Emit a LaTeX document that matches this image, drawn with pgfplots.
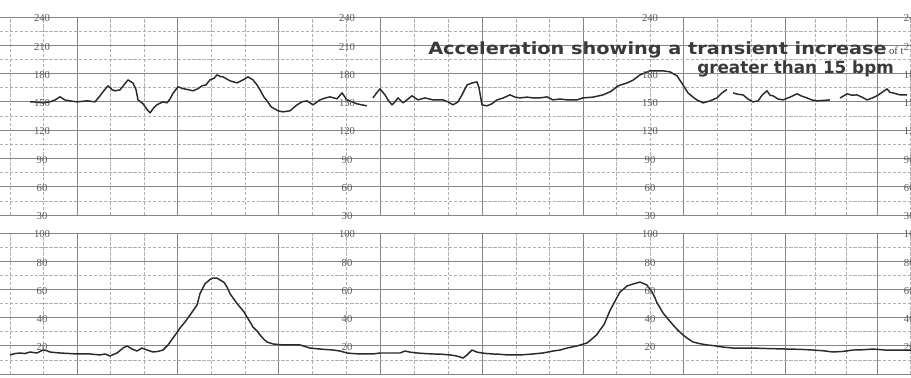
\documentclass[border=0pt]{standalone}
\usepackage{pgfplots}
\pgfplotsset{compat=1.18}
\usepackage{fontspec}
\setmainfont{Liberation Serif}
\newfontfamily\titlefont{DejaVu Sans}
\definecolor{tracecol}{HTML}{2A2A2A}
\definecolor{gridmaj}{HTML}{858585}
\definecolor{gridmin}{HTML}{B0B0B0}
\definecolor{lab}{HTML}{5A5A5A}
\definecolor{ttl}{HTML}{3A3A3A}
\tikzset{ticklab/.style={font=\fontsize{8}{8}\selectfont, text=lab, inner sep=0pt, yshift=-1pt}}
\pgfplotsset{
  ctgaxis/.style={
    scale only axis, width=683.25pt, anchor=south west,
    xmin=0, xmax=911, clip=false,
    axis line style={draw=none}, tick style={draw=none},
    xticklabels={}, yticklabels={},
    xtick={77,177,278,380,482,583,683,785,877},
    minor xtick={10,43,110,144,211,245,312,346,414,448,516,549,616,650,717,751,815,846,910},
    grid=both,
    major grid style={gridmaj, line width=0.65pt},
    minor grid style={gridmin, line width=0.45pt, dash pattern=on 2.5pt off 1.2pt},
    unbounded coords=jump,
  },
  ctgtrace/.style={tracecol, line width=1.1pt, line join=round, no marks},
}
\pgfplotstableread{
x y
30 150
33 150
43 148.9
50 150
55 152
60 155.3
65 152
70 151
77 150
82 150.5
87 151.1
95 150
100 156.4
104 162
108 167
112 163
115 161.7
120 162.7
124 168
128 173.3
133 170
136 163
138 152.1
143 148
147 142
150 138.3
154 144
157 147
163 150
167 149
170 153
173 159
178 166
183 164
188 163
193 161.7
198 164
202 167
206 168
210 173.3
214 175
217 178.6
220 177
223 176.5
230 172.3
237 170.1
243 173.3
248 176.5
253 173.3
257 168
260 162.7
264 155
267 151.1
271 145
273 143.6
278 140.5
283 139.4
290 140.5
297 146.8
302 150
307 151.1
313 146.8
320 152.1
325 154
330 155.3
337 153.2
342 159.5
347 152
352 150
357 147.9
362 146.8
367 145.8
370 nan
373 154.2
377 160
380 163.8
385 157.4
388 152
392 146.8
395 150
398 154.2
403 148.9
408 153
412 156.4
418 152.1
425 154.2
433 152.1
443 152.1
448 150
453 146.8
458 150
462 157.4
467 168
472 170
477 171.2
479 165
482 146.8
487 145.8
492 148
497 152.1
503 154
510 157.4
515 155
520 154.2
527 155
533 154.2
540 154.2
547 155.3
553 152.1
560 153
567 152.1
577 152.1
583 154.2
593 155
603 157.4
610 160.6
613 162.7
618 167
627 170
633 173
640 178.6
650 182.9
657 182.9
663 182.9
670 181.8
677 177.6
683 168
688 159.5
693 155
697 152
703 148.9
710 151
717 154.2
722 159.5
727 163
730 nan
733 159.5
738 158
743 157.4
748 153
753 150
758 151
762 157
767 161.7
770 157
773 156.4
778 153
783 152.1
790 155
797 158.5
802 156
807 154.2
812 152
817 151.1
823 151.5
830 152.1
835 nan
840 154
847 158.5
852 157
857 157.4
862 155
867 152.1
872 154
877 156.4
882 160
887 163.8
890 160
893 159.5
900 157.4
907 157.4
}\fhr
\pgfplotstableread{
x y
10 13.5
15 14.5
20 14.9
25 14.5
30 15.6
37 14.9
43 17.0
47 16.5
50 15.6
55 15.2
60 14.9
70 14.5
77 14.2
90 14.2
100 13.5
105 14.2
110 12.8
117 14.9
123 18.4
127 19.9
132 17.7
137 16.3
142 18.4
147 17.0
153 15.6
158 16
163 17.0
168 20.6
173 25.5
177 29.5
180 32.6
185 36.9
190 41.8
197 48.9
200 57
205 64
210 67
213 68.1
217 68
220 66.7
224 65
227 61.7
230 57
233 53.9
237 50
240 47.5
244 44
247 40.4
250 37
253 33.3
257 30.5
260 27.7
264 24.5
267 22.7
273 21.3
283 20.6
290 20.6
300 20.6
305 19.5
310 18.4
320 17.7
333 17.0
340 16.3
347 14.9
353 14.5
360 14.2
373 14.2
380 14.9
387 14.9
400 14.9
405 16.3
410 15.5
417 14.9
425 14.5
433 14.2
442 14
450 13.5
455 13
460 12.1
463 11.3
467 13.5
472 17.0
477 15.5
482 14.9
487 14.5
493 14.2
500 14
507 13.5
520 13.5
533 14.2
543 14.9
553 16.3
560 17.0
567 18.4
577 19.9
587 22.0
593 25.5
597 28
600 31.2
604 35
607 40
610 45
613 49
616 53
620 58.2
624 60.5
627 62.4
633 63.8
640 65.2
644 64
647 63.1
650 60
652 58.2
655 54
657 50.4
660 47
663 43.3
668 39
673 34.8
678 31
683 27.7
688 25
693 22.7
700 21.5
707 20.6
715 20
723 19.1
733 18.4
743 18.4
753 18.4
770 18
787 17.7
800 17.5
813 17.0
823 16.5
833 15.6
843 16
853 17.0
863 17.2
873 17.7
885 17
900 17.0
911 17
}\uc
\begin{document}
\begin{tikzpicture}[x=0.75pt,y=0.75pt]
\useasboundingbox (0,0) rectangle (911,378);
% FHR panel
\begin{axis}[ctgaxis, at={(0pt,122.25pt)}, height=148.5pt,
  ymin=30, ymax=240,
  ytick={30,60,...,240}, minor ytick={45,75,...,225}]
\addplot[ctgtrace] table[x=x,y=y] {\fhr};
\foreach \xx in {42,347}{
  \foreach \yy in {30,60,...,240}{
    \edef\tmp{\noexpand\node[ticklab] at (axis cs:\xx,\yy) {\yy};}\tmp
  }
}
\foreach \yy in {30,60,90,120,150,180,240}{
  \edef\tmp{\noexpand\node[ticklab] at (axis cs:650,\yy) {\yy};}\tmp
}
\foreach \yy in {30,60,...,240}{
  \edef\tmp{\noexpand\node[ticklab, anchor=west, xshift=-1pt] at (axis cs:905,\yy) {\yy};}\tmp
}
\end{axis}
% UC panel
\begin{axis}[ctgaxis, at={(0pt,3pt)}, height=105.75pt,
  ymin=0, ymax=100,
  ytick={0,20,...,100}, minor ytick={10,30,...,90}]
\addplot[ctgtrace] table[x=x,y=y] {\uc};
\foreach \xx in {42,347,650}{
  \foreach \yy in {20,40,...,100}{
    \edef\tmp{\noexpand\node[ticklab] at (axis cs:\xx,\yy) {\yy};}\tmp
  }
}
\foreach \yy in {20,40,...,100}{
  \edef\tmp{\noexpand\node[ticklab, anchor=west, xshift=-1pt] at (axis cs:905,\yy) {\yy};}\tmp
}
\end{axis}
% annotation
\node[anchor=base west, inner sep=0pt, text=ttl] at (428,323)
  {\scalebox{1.15}[1]{\titlefont\bfseries\fontsize{12.6}{14}\selectfont Acceleration showing a transient increase}\,{\fontsize{8}{8}\selectfont of t}};
\node[anchor=base west, inner sep=0pt, text=ttl] at (697,304)
  {\scalebox{1.0}[1]{\titlefont\bfseries\fontsize{12.6}{14}\selectfont greater than 15 bpm}};
\end{tikzpicture}
\end{document}
